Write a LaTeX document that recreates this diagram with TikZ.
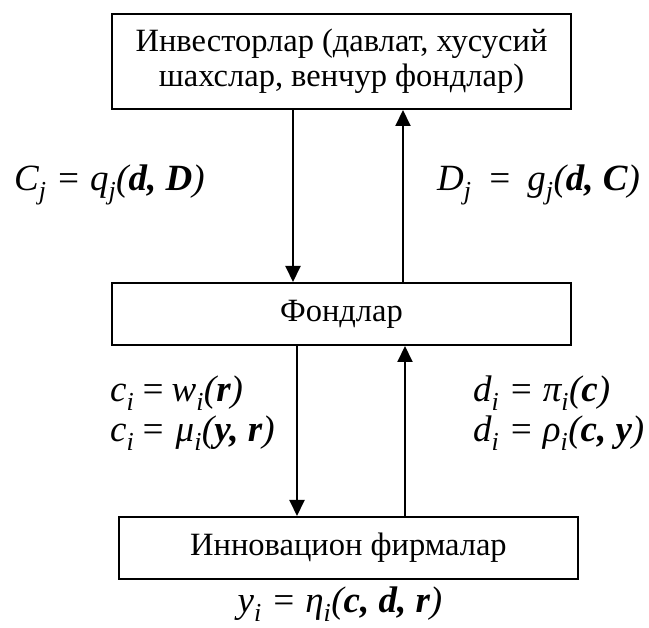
\documentclass[tikz,border=0pt]{standalone}
\usepackage{fontspec}
\setmainfont{Liberation Serif}
\usetikzlibrary{positioning,arrows.meta,calc}

\newcommand{\bv}[1]{\textbf{\textit{#1}}}
\newcommand{\sub}[1]{\textsubscript{\textit{#1}}}

\begin{document}
\begin{tikzpicture}[x=1pt,y=-1pt,
  box/.style={rectangle, draw, line width=2pt, minimum width=459pt, align=center, font=\fontsize{32.5}{35}\selectfont},
  eq/.style={font=\fontsize{37}{40}\selectfont\itshape, align=left, inner sep=0pt},
  flow/.style={line width=2pt, -{Triangle[length=16pt,width=15pt]}}]
\useasboundingbox (0,0) rectangle (649,628);

\node[box, minimum height=95pt] (inv) at (341.5,61.5) {Инвесторлар (давлат, хусусий\\шахслар, венчур фондлар)};
\node[box, minimum height=62pt] (fond) at (341.5,314) {Фондлар};
\node[box, minimum height=62pt] (firm) at (348.5,548) {Инновацион фирмалар};

% arrow columns
\coordinate (c1) at (293,0);
\coordinate (c2) at (403,0);
\coordinate (c3) at (297,0);
\coordinate (c4) at (405,0);

\draw[flow] (inv.south -| c1) -- (fond.north -| c1);
\draw[flow] (fond.north -| c2) -- (inv.south -| c2);
\draw[flow] (fond.south -| c3) -- (firm.north -| c3);
\draw[flow] (firm.north -| c4) -- (fond.south -| c4);

\node[eq, anchor=west] (lq) at (14,185) {C\sub{j} = q\sub{j}(\bv{d, D})};
\node[eq, anchor=west] (lg) at (437,185) {D\sub{j} \,=\, g\sub{j}(\bv{d, C})};
\node[eq, anchor=west] (lw) at (110,413) {c\sub{i}\,=\,w\sub{i}(\bv{r})\\c\sub{i}\,=\;μ\sub{i}(\bv{y, r})};
\node[eq, anchor=west] (lp) at (473,413) {d\sub{i} = π\sub{i}(\bv{c})\\d\sub{i} = ρ\sub{i}(\bv{c, y})};
\node[eq, anchor=center] (le) at (340,604) {y\sub{i} = η\sub{i}(\bv{c, d, r})};
\end{tikzpicture}
\end{document}
